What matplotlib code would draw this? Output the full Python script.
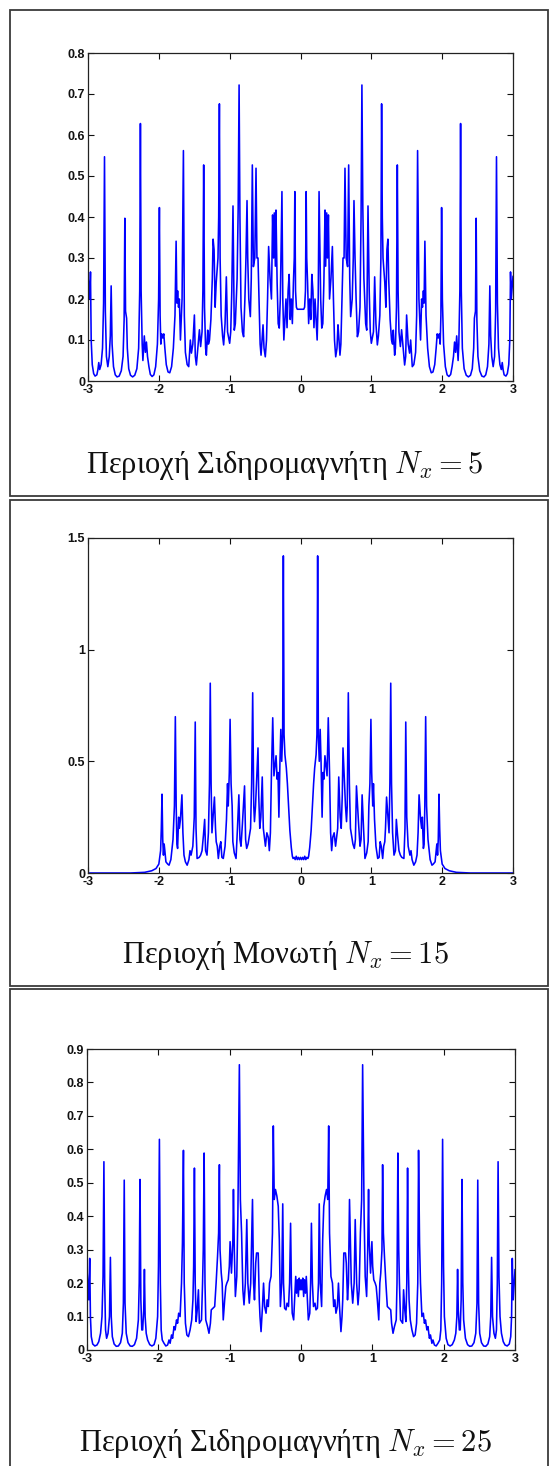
import matplotlib
matplotlib.use("Agg")
import matplotlib.pyplot as plt
from matplotlib.patches import Rectangle
from matplotlib import font_manager

plt.rcParams['mathtext.fontset'] = 'cm'

# ---------------- data (left half, x from -3 to 0; curves are symmetric) ----------------
p1_x = [-3.000, -2.975, -2.965, -2.955, -2.94, -2.92, -2.90, -2.875, -2.86, -2.848, -2.835, -2.815,
        -2.795, -2.78, -2.767, -2.755, -2.74, -2.72, -2.70, -2.685, -2.673, -2.66, -2.64, -2.615,
        -2.59, -2.56, -2.53, -2.505, -2.49, -2.48, -2.47, -2.455, -2.445, -2.425, -2.40, -2.37,
        -2.34, -2.31, -2.285, -2.27, -2.26, -2.25, -2.235, -2.225, -2.205, -2.19, -2.175, -2.16,
        -2.14, -2.12, -2.095, -2.07, -2.045, -2.02, -2.003, -1.992, -1.982, -1.972, -1.96, -1.945,
        -1.93, -1.915, -1.895, -1.87, -1.846, -1.82, -1.795, -1.772, -1.756, -1.745, -1.735, -1.722,
        -1.71, -1.695, -1.672, -1.653, -1.64, -1.625, -1.60, -1.578, -1.555, -1.54, -1.52, -1.498,
        -1.485, -1.47, -1.45, -1.427, -1.41, -1.39, -1.378, -1.367, -1.355, -1.34, -1.329, -1.31,
        -1.30, -1.285, -1.265, -1.245, -1.234, -1.22, -1.205, -1.19, -1.165, -1.155, -1.145, -1.135,
        -1.12, -1.10, -1.085, -1.065, -1.047, -1.03, -1.00, -0.985, -0.97, -0.953, -0.945, -0.935,
        -0.92, -0.895, -0.88, -0.867, -0.855, -0.84, -0.82, -0.803, -0.785, -0.77, -0.755, -0.745,
        -0.73, -0.708, -0.695, -0.68, -0.665, -0.645, -0.628, -0.615, -0.60, -0.585, -0.57, -0.557,
        -0.54, -0.529, -0.515, -0.497, -0.48, -0.465, -0.45, -0.43, -0.41, -0.394, -0.38, -0.37,
        -0.355, -0.346, -0.33, -0.315, -0.30, -0.285, -0.262, -0.25, -0.235, -0.22, -0.205, -0.19,
        -0.175, -0.16, -0.145, -0.13, -0.115, -0.10, -0.088, -0.08, -0.07, -0.058, -0.045, 0.0]
p1_y = [0.255, 0.20, 0.266, 0.10, 0.04, 0.018, 0.012, 0.015, 0.028, 0.045, 0.028, 0.04,
        0.08, 0.19, 0.547, 0.17, 0.06, 0.035, 0.06, 0.11, 0.232, 0.09, 0.035, 0.015,
        0.01, 0.012, 0.025, 0.06, 0.15, 0.397, 0.17, 0.153, 0.08, 0.03, 0.014, 0.01,
        0.014, 0.03, 0.08, 0.22, 0.628, 0.22, 0.09, 0.05, 0.11, 0.07, 0.095, 0.06,
        0.035, 0.016, 0.011, 0.015, 0.035, 0.09, 0.20, 0.423, 0.16, 0.09, 0.115, 0.105,
        0.115, 0.08, 0.04, 0.022, 0.02, 0.035, 0.08, 0.16, 0.341, 0.19, 0.22, 0.18,
        0.20, 0.10, 0.20, 0.562, 0.16, 0.07, 0.04, 0.035, 0.10, 0.068, 0.09, 0.161,
        0.06, 0.039, 0.08, 0.125, 0.084, 0.12, 0.22, 0.527, 0.18, 0.08, 0.063, 0.124,
        0.09, 0.10, 0.15, 0.25, 0.346, 0.32, 0.18, 0.24, 0.30, 0.40, 0.676, 0.30,
        0.16, 0.11, 0.088, 0.14, 0.254, 0.12, 0.092, 0.12, 0.22, 0.427, 0.28, 0.124,
        0.14, 0.25, 0.42, 0.722, 0.40, 0.18, 0.12, 0.108, 0.20, 0.30, 0.44, 0.30,
        0.20, 0.157, 0.25, 0.527, 0.279, 0.30, 0.519, 0.30, 0.30, 0.20, 0.09, 0.063,
        0.11, 0.137, 0.08, 0.059, 0.10, 0.20, 0.328, 0.25, 0.20, 0.405, 0.30, 0.41,
        0.28, 0.417, 0.24, 0.14, 0.129, 0.20, 0.462, 0.20, 0.10, 0.15, 0.20, 0.13,
        0.22, 0.26, 0.15, 0.20, 0.14, 0.24, 0.30, 0.462, 0.22, 0.18, 0.175, 0.175]

p2_x = [-3.0, -2.4, -2.2, -2.1, -2.04, -2.0, -1.975, -1.965, -1.955, -1.945, -1.935, -1.925,
        -1.915, -1.90, -1.875, -1.856, -1.83, -1.80, -1.78, -1.767, -1.755, -1.745, -1.735, -1.72,
        -1.71, -1.695, -1.674, -1.66, -1.645, -1.625, -1.60, -1.575, -1.56, -1.545, -1.52, -1.50,
        -1.486, -1.475, -1.46, -1.43, -1.41, -1.39, -1.37, -1.353, -1.34, -1.32, -1.30, -1.285,
        -1.274, -1.262, -1.25, -1.235, -1.215, -1.20, -1.19, -1.175, -1.16, -1.14, -1.125, -1.11,
        -1.09, -1.065, -1.045, -1.03, -1.02, -1.005, -0.994, -0.98, -0.965, -0.955, -0.935, -0.91,
        -0.89, -0.87, -0.855, -0.84, -0.82, -0.79, -0.775, -0.76, -0.74, -0.72, -0.705, -0.69,
        -0.675, -0.66, -0.65, -0.635, -0.60, -0.59, -0.575, -0.56, -0.54, -0.525, -0.51, -0.495,
        -0.475, -0.455, -0.44, -0.425, -0.41, -0.392, -0.375, -0.36, -0.345, -0.33, -0.318, -0.305,
        -0.29, -0.278, -0.265, -0.252, -0.242, -0.232, -0.22, -0.20, -0.185, -0.165, -0.15, -0.13,
        -0.115, -0.105, -0.09, -0.075, -0.06, -0.045, -0.03, -0.015, 0.0]
p2_y = [0.0, 0.0, 0.003, 0.01, 0.02, 0.04, 0.10, 0.20, 0.353, 0.15, 0.08, 0.13,
        0.10, 0.05, 0.04, 0.035, 0.06, 0.15, 0.30, 0.70, 0.30, 0.13, 0.11, 0.25,
        0.20, 0.24, 0.35, 0.18, 0.08, 0.05, 0.035, 0.06, 0.10, 0.08, 0.12, 0.25,
        0.676, 0.20, 0.065, 0.07, 0.08, 0.10, 0.17, 0.24, 0.10, 0.08, 0.18, 0.40,
        0.85, 0.40, 0.18, 0.25, 0.34, 0.20, 0.14, 0.12, 0.065, 0.12, 0.14, 0.07,
        0.065, 0.12, 0.24, 0.40, 0.30, 0.45, 0.688, 0.40, 0.30, 0.14, 0.09, 0.065,
        0.20, 0.35, 0.15, 0.12, 0.22, 0.39, 0.15, 0.11, 0.13, 0.17, 0.20, 0.40,
        0.807, 0.30, 0.23, 0.30, 0.56, 0.35, 0.20, 0.25, 0.43, 0.20, 0.16, 0.12,
        0.18, 0.16, 0.10, 0.18, 0.45, 0.695, 0.435, 0.48, 0.525, 0.42, 0.45, 0.25,
        0.50, 0.643, 0.50, 0.62, 1.42, 0.62, 0.53, 0.47, 0.40, 0.28, 0.19, 0.114,
        0.075, 0.065, 0.07, 0.06, 0.075, 0.06, 0.07, 0.06, 0.07]

p3_x = [-3.0, -2.975, -2.962, -2.952, -2.94, -2.92, -2.89, -2.86, -2.835, -2.81, -2.79, -2.775,
        -2.763, -2.752, -2.74, -2.725, -2.705, -2.685, -2.672, -2.66, -2.645, -2.62, -2.59, -2.56,
        -2.53, -2.505, -2.49, -2.478, -2.467, -2.45, -2.425, -2.395, -2.365, -2.335, -2.305, -2.28,
        -2.268, -2.257, -2.245, -2.232, -2.22, -2.205, -2.195, -2.185, -2.17, -2.15, -2.12, -2.09,
        -2.06, -2.035, -2.01, -1.998, -1.985, -1.972, -1.96, -1.945, -1.92, -1.895, -1.87, -1.85,
        -1.835, -1.815, -1.80, -1.78, -1.765, -1.745, -1.73, -1.715, -1.695, -1.675, -1.662, -1.648,
        -1.637, -1.62, -1.60, -1.578, -1.555, -1.532, -1.515, -1.505, -1.494, -1.483, -1.47, -1.455,
        -1.438, -1.425, -1.41, -1.395, -1.38, -1.37, -1.358, -1.346, -1.335, -1.31, -1.29, -1.27,
        -1.258, -1.235, -1.21, -1.19, -1.17, -1.155, -1.144, -1.135, -1.118, -1.105, -1.09, -1.07,
        -1.054, -1.04, -1.02, -1.005, -0.994, -0.975, -0.955, -0.947, -0.935, -0.92, -0.90, -0.885,
        -0.864, -0.85, -0.833, -0.815, -0.799, -0.78, -0.76, -0.745, -0.725, -0.705, -0.68, -0.665,
        -0.652, -0.635, -0.623, -0.60, -0.585, -0.575, -0.56, -0.54, -0.525, -0.51, -0.49, -0.475,
        -0.458, -0.441, -0.42, -0.40, -0.388, -0.375, -0.358, -0.338, -0.319, -0.304, -0.289, -0.27,
        -0.256, -0.245, -0.23, -0.21, -0.196, -0.175, -0.16, -0.146, -0.135, -0.123, -0.103, -0.09,
        -0.074, -0.062, -0.049, -0.037, -0.025, -0.012, 0.0]
p3_y = [0.24, 0.15, 0.274, 0.10, 0.04, 0.018, 0.012, 0.015, 0.025, 0.05, 0.10, 0.22,
        0.563, 0.20, 0.06, 0.035, 0.05, 0.10, 0.277, 0.10, 0.04, 0.018, 0.011, 0.012,
        0.022, 0.05, 0.14, 0.508, 0.14, 0.05, 0.022, 0.012, 0.011, 0.016, 0.035, 0.09,
        0.20, 0.51, 0.15, 0.06, 0.06, 0.12, 0.241, 0.10, 0.05, 0.03, 0.016, 0.012,
        0.016, 0.035, 0.10, 0.25, 0.63, 0.20, 0.06, 0.03, 0.02, 0.012, 0.015, 0.03,
        0.02, 0.045, 0.035, 0.07, 0.06, 0.09, 0.08, 0.11, 0.10, 0.20, 0.32, 0.597,
        0.20, 0.08, 0.045, 0.04, 0.06, 0.09, 0.15, 0.25, 0.544, 0.20, 0.085, 0.12,
        0.18, 0.08, 0.085, 0.09, 0.20, 0.30, 0.589, 0.20, 0.09, 0.07, 0.05, 0.08,
        0.12, 0.125, 0.13, 0.20, 0.28, 0.35, 0.554, 0.30, 0.23, 0.20, 0.09, 0.15,
        0.19, 0.20, 0.21, 0.25, 0.324, 0.23, 0.33, 0.48, 0.30, 0.16, 0.22, 0.40,
        0.853, 0.45, 0.35, 0.18, 0.135, 0.20, 0.39, 0.20, 0.14, 0.20, 0.45, 0.20,
        0.15, 0.26, 0.29, 0.29, 0.15, 0.10, 0.055, 0.13, 0.20, 0.13, 0.11, 0.15,
        0.13, 0.20, 0.22, 0.35, 0.67, 0.45, 0.48, 0.46, 0.43, 0.33, 0.13, 0.20,
        0.437, 0.20, 0.125, 0.12, 0.14, 0.13, 0.20, 0.379, 0.20, 0.11, 0.09, 0.15,
        0.22, 0.17, 0.21, 0.16, 0.215, 0.18, 0.21]

x_ticks = [-3, -2, -1, 0, 1, 2, 3]
x_tick_labels = ['-3', '-2', '-1', '0', '1', '2', '3']
y1_ticks = [0, 0.1, 0.2, 0.3, 0.4, 0.5, 0.6, 0.7, 0.8]
y1_tick_labels = ['0', '0.1', '0.2', '0.3', '0.4', '0.5', '0.6', '0.7', '0.8']
y2_ticks = [0, 0.5, 1, 1.5]
y2_tick_labels = ['0', '0.5', '1', '1.5']
y3_ticks = [0, 0.1, 0.2, 0.3, 0.4, 0.5, 0.6, 0.7, 0.8, 0.9]
y3_tick_labels = ['0', '0.1', '0.2', '0.3', '0.4', '0.5', '0.6', '0.7', '0.8', '0.9']
captions = [r'Περιοχή Σιδηρομαγνήτη $N_x = 5$',
            r'Περιοχή Μονωτή $N_x = 15$',
            r'Περιοχή Σιδηρομαγνήτη $N_x = 25$']


def full(xs, ys):
    fx = list(xs) + [-v for v in reversed(xs[:-1])]
    fy = list(ys) + list(reversed(ys[:-1]))
    return fx, fy


# ---------------- figure ----------------
W, H = 549, 1466
fig = plt.figure(figsize=(W / 100, H / 100), dpi=100)
fig.patch.set_facecolor('white')

avail = {f.name for f in font_manager.fontManager.ttflist}
tick_family = 'Liberation Sans Narrow' if 'Liberation Sans Narrow' in avail else 'Liberation Sans'
cap_family = 'Liberation Serif' if 'Liberation Serif' in avail else 'DejaVu Serif'


def px_rect(l, t, r, b):
    return [l / W, 1 - b / H, (r - l) / W, (b - t) / H]


# panel frames (pixel coordinates: left, top, right, bottom)
frames = [(10, 10, 547.5, 496), (10, 500, 547.5, 986), (10, 988.5, 547.5, 1480)]
for (l, t, r, b) in frames:
    fig.patches.append(Rectangle((l / W, 1 - b / H), (r - l) / W, (b - t) / H,
                                 transform=fig.transFigure, fill=False,
                                 edgecolor='#3a3a3a', linewidth=1.3, zorder=0))

axes_px = [(88, 53, 513, 381), (88, 538, 513, 873), (87, 1049, 515, 1350)]
data = [(p1_x, p1_y, y1_ticks, y1_tick_labels, 0.8),
        (p2_x, p2_y, y2_ticks, y2_tick_labels, 1.5),
        (p3_x, p3_y, y3_ticks, y3_tick_labels, 0.9)]
caption_y = [465, 955, 1443]

for i, (rect, (xs, ys, yt, ytl, ymax)) in enumerate(zip(axes_px, data)):
    ax = fig.add_axes(px_rect(*rect))
    fx, fy = full(xs, ys)
    ax.plot(fx, fy, color='#0000ff', linewidth=1.15, solid_joinstyle='round')
    ax.set_xlim(-3, 3)
    ax.set_ylim(0, ymax)
    ax.set_xticks(x_ticks)
    ax.set_xticklabels(x_tick_labels)
    ax.set_yticks(yt)
    ax.set_yticklabels(ytl)
    ax.tick_params(direction='in', length=4, width=0.8, top=True, right=True,
                   pad=2, labelsize=9, colors='#111111')
    for lab in ax.get_xticklabels() + ax.get_yticklabels():
        lab.set_family(tick_family)
        lab.set_fontweight('bold')
    for s in ax.spines.values():
        s.set_linewidth(0.9)
        s.set_color('#222222')
    fig.text(285 / W, 1 - caption_y[i] / H, captions[i], ha='center', va='center',
             fontsize=22, family=cap_family, color='#111111')

fig.savefig('out.png', dpi=100, facecolor='white')
